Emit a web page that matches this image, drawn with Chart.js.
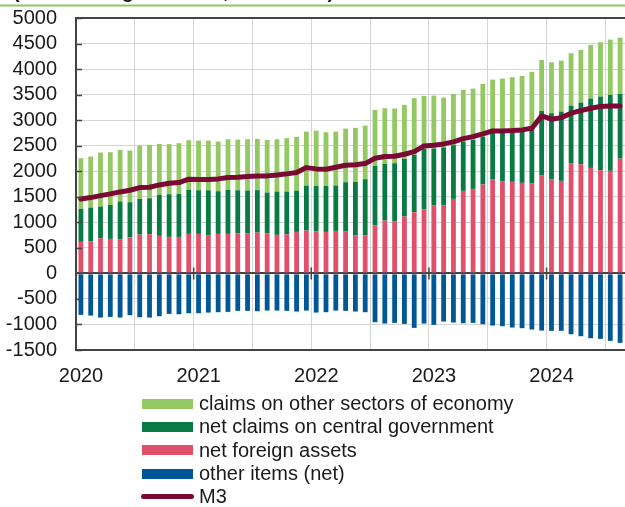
<!DOCTYPE html>
<html>
<head>
<meta charset="utf-8">
<script src="https://cdn.jsdelivr.net/npm/chart.js@4/dist/chart.umd.min.js"></script>
<style>
  html, body { margin: 0; padding: 0; background: #fff; }
  #wrap { position: relative; width: 625px; height: 507px; overflow: hidden; }
  #chart { position: absolute; left: 0; top: 0; }
  #legend { position: absolute; left: 140px; top: 392px; font: 20px "Liberation Sans", Arial, sans-serif; color: #1a1a1a; }
  .row { height: 23.3px; line-height: 23.3px; white-space: nowrap; display: flex; align-items: center; }
  .box { width: 51px; height: 10px; margin: 0 6px 0 2px; }
  .line { width: 53px; height: 5px; border-radius: 3px; margin: 0 5px 0 1px; }
</style>
</head>
<body>
<div id="wrap">
  <canvas id="chart" width="625" height="507"></canvas>
  <div id="legend"></div>
</div>
<script>
/* Monthly stocks, Jan 2020 - Aug 2024 */
const yearLabels = ['2020', '2021', '2022', '2023', '2024'];
const chartTitle = '(outstanding amounts, in billions)';

const claimsOtherSectors = [
  992, 999, 1057, 1031, 1012, 1012, 1044, 1045, 998, 979, 993, 972,
  972, 972, 972, 992, 992, 1005, 1003, 1032, 1025, 1044, 1051, 1057,
  1083, 1051, 1057, 1050, 1057, 1050, 1096, 1090, 1070, 1057, 1110, 1038,
  1036, 977, 1004, 1011, 1004, 1032, 1037, 1057, 1032, 1024, 1071, 999,
  998, 998, 1026, 1032, 1051, 1065, 1083, 1102
];
const netClaimsGovernment = [
  646, 658, 619, 666, 737, 685, 698, 704, 803, 836, 842, 862,
  855, 881, 836, 862, 842, 836, 831, 796, 848, 835, 809, 881,
  888, 901, 887, 966, 1044, 1097, 1162, 1110, 1143, 1130, 1122, 1180,
  1110, 1137, 1052, 966, 960, 939, 913, 952, 1018, 1070, 1108, 1259,
  1292, 1357, 1128, 1206, 1357, 1441, 1487, 1267
];
const netForeignAssets = [
  617, 630, 689, 675, 669, 708, 760, 767, 734, 714, 714, 773,
  773, 747, 773, 773, 786, 786, 799, 786, 754, 767, 812, 838,
  825, 812, 832, 819, 747, 747, 943, 1034, 1014, 1112, 1198, 1257,
  1335, 1328, 1458, 1615, 1654, 1739, 1844, 1805, 1791, 1772, 1766, 1922,
  1844, 1811, 2157, 2138, 2065, 2020, 2007, 2247
];
const otherItemsNet = [
  -812, -826, -865, -852, -865, -819, -858, -865, -839, -793, -800, -780,
  -780, -767, -760, -754, -734, -734, -741, -728, -728, -734, -747, -728,
  -767, -760, -728, -734, -747, -760, -956, -982, -969, -989, -1067, -982,
  -1008, -943, -963, -976, -969, -995, -1021, -1034, -1060, -1073, -1099, -1119,
  -1125, -1125, -1191, -1230, -1269, -1282, -1321, -1360
];
const m3 = [
  1458, 1484, 1523, 1556, 1595, 1628, 1680, 1687, 1732, 1765, 1778, 1844,
  1837, 1840, 1850, 1876, 1883, 1895, 1905, 1909, 1928, 1948, 1974, 2071,
  2046, 2040, 2079, 2118, 2125, 2150, 2255, 2287, 2294, 2333, 2385, 2496,
  2510, 2535, 2574, 2639, 2678, 2731, 2790, 2790, 2796, 2809, 2842, 3083,
  3019, 3050, 3136, 3187, 3234, 3266, 3279, 3279
];

const colors = {
  claims: '#93C862',
  gov: '#087B45',
  nfa: '#E0506A',
  other: '#005796',
  m3: '#7A0A33',
  axis: '#444',
  grid: '#D3D6D9',
  rule: '#8CC665'
};
const FONT = '"Liberation Sans", Arial, sans-serif';

// month index -> x value at the middle of the month
const pts = arr => arr.map((v, i) => ({ x: i + 0.5, y: v }));

const barSets = [
  { label: 'net foreign assets', data: netForeignAssets, color: colors.nfa },
  { label: 'net claims on central government', data: netClaimsGovernment, color: colors.gov },
  { label: 'claims on other sectors of economy', data: claimsOtherSectors, color: colors.claims },
  { label: 'other items (net)', data: otherItemsNet, color: colors.other }
];

const datasets = [{
  type: 'line',
  label: 'M3',
  data: pts(m3),
  borderColor: colors.m3,
  borderWidth: 5,
  pointRadius: 0,
  tension: 0,
  borderJoinStyle: 'round',
  borderCapStyle: 'round',
  stack: 'line'
}].concat(barSets.map(s => ({
  type: 'bar',
  label: s.label,
  data: pts(s.data),
  backgroundColor: s.color,
  borderWidth: 0,
  categoryPercentage: 1,
  barPercentage: 0.49,
  stack: 'bars'
})));

// cut-off heading, green rule, and the short inner ticks
const decor = {
  id: 'decor',
  afterDraw(chart){
    const { ctx, scales: { x, y }, chartArea } = chart;
    ctx.save();
    ctx.fillStyle = '#1a1a1a';
    ctx.font = 'bold 20px ' + FONT;
    ctx.textAlign = 'left';
    ctx.textBaseline = 'alphabetic';
    ctx.fillText(chartTitle, 13, -2);
    ctx.fillStyle = colors.rule;
    ctx.fillRect(0, 4.5, chart.width, 2);

    ctx.strokeStyle = colors.axis;
    ctx.lineWidth = 1.5;
    ctx.beginPath();
    for (let v = -1500; v <= 5000; v += 500){
      const py = Math.round(y.getPixelForValue(v)) + 0.5;
      ctx.moveTo(chartArea.left, py);
      ctx.lineTo(chartArea.left + 6, py);
    }
    const zero = y.getPixelForValue(0);
    for (let m = 12; m < 56; m += 12){
      const px = x.getPixelForValue(m);
      ctx.moveTo(px, zero - 6);
      ctx.lineTo(px, zero + 6);
    }
    ctx.stroke();
    ctx.restore();
  }
};

new Chart(document.getElementById('chart'), {
  data: { datasets },
  options: {
    responsive: false,
    animation: false,
    layout: { padding: { top: 18, right: 0, bottom: 117, left: 0 } },
    plugins: { legend: { display: false }, tooltip: { enabled: false } },
    scales: {
      x: {
        type: 'linear',
        offset: false,
        min: 0,
        max: 56,
        afterFit: s => { s.height = 40; },
        ticks: {
          stepSize: 6,
          includeBounds: false,
          autoSkip: false,
          maxRotation: 0,
          padding: 14,
          labelOffset: 5,
          color: '#1a1a1a',
          font: { family: FONT, size: 20 },
          callback: v => (v % 12 === 0 ? yearLabels[v / 12] : '')
        },
        grid: { color: colors.grid, lineWidth: 1, drawTicks: false, offset: false },
        border: { color: colors.axis, width: 2 }
      },
      y: {
        stacked: true,
        min: -1500,
        max: 5000,
        afterFit: s => { s.width = 76; },
        ticks: {
          stepSize: 500,
          autoSkip: false,
          padding: 0,
          color: '#1a1a1a',
          font: { family: FONT, size: 20, lineHeight: 1 },
          callback: v => String(v)
        },
        grid: {
          drawTicks: true,
          tickLength: 19,
          tickColor: 'rgba(0,0,0,0)',
          color: c => (c.tick && (c.tick.value === 0 || c.tick.value === 5000) ? colors.axis : colors.grid),
          lineWidth: c => (c.tick && (c.tick.value === 0 || c.tick.value === 5000) ? 2 : 1)
        },
        border: { color: colors.axis, width: 2 }
      }
    }
  },
  plugins: [decor]
});

// legend: top-down order as in the original
const legendItems = [barSets[2], barSets[1], barSets[0], barSets[3]];
const legend = document.getElementById('legend');
legendItems.forEach(s => {
  legend.insertAdjacentHTML('beforeend',
    `<div class="row"><span class="box" style="background:${s.color}"></span>${s.label}</div>`);
});
legend.insertAdjacentHTML('beforeend',
  `<div class="row"><span class="line" style="background:${colors.m3}"></span>M3</div>`);
</script>
</body>
</html>
